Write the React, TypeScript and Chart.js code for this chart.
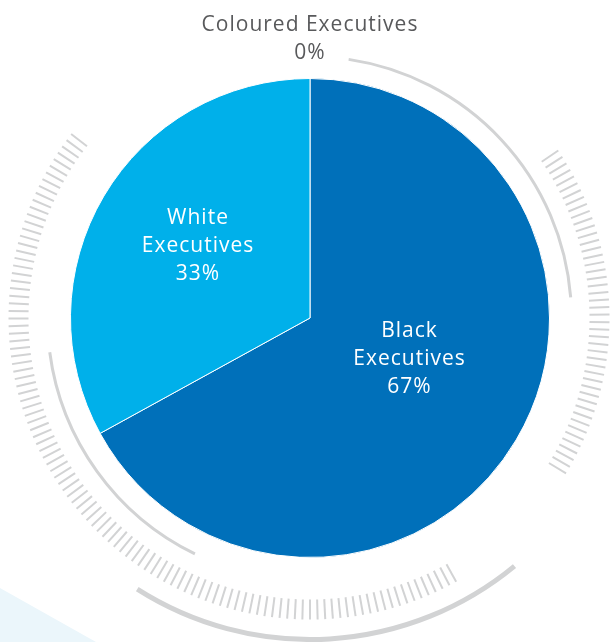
import React, { useEffect, useRef } from "react";
import { Chart, registerables } from "chart.js";

Chart.register(...registerables);

const categories = ["Black Executives", "White Executives", "Coloured Executives"];
const labelLines = [["Black", "Executives"], ["White", "Executives"], ["Coloured Executives"]];
const values = [67, 33, 0];
const colors = ["#0070ba", "#00b0ea", "#8dc63f"];

const FONT = "'Open Sans', Roboto, sans-serif";

const decorPlugin = {
  id: "decor",
  beforeDatasetsDraw(chart: any) {
    const ctx = chart.ctx as CanvasRenderingContext2D;
    const meta = chart.getDatasetMeta(0);
    const arc = meta.data[0] as any;
    const cx = arc.x;
    const cy = arc.y;
    const R = arc.outerRadius;
    const d = Math.PI / 180;
    ctx.save();
    ctx.fillStyle = "#ebf6fb";
    ctx.beginPath();
    ctx.moveTo(0, chart.height - 54);
    ctx.lineTo(96, chart.height);
    ctx.lineTo(0, chart.height);
    ctx.closePath();
    ctx.fill();

    ctx.strokeStyle = "#d2d3d4";
    ctx.lineCap = "butt";
    ctx.lineWidth = 3;
    ctx.beginPath();
    ctx.arc(cx, cy, R + 22, -81.5 * d, -4.5 * d);
    ctx.stroke();
    ctx.beginPath();
    ctx.arc(cx, cy, R + 23, 116 * d, 172.5 * d);
    ctx.stroke();
    ctx.lineWidth = 5;
    ctx.beginPath();
    ctx.arc(cx, cy, R + 82, 50.5 * d, 122.5 * d);
    ctx.stroke();

    ctx.lineWidth = 2;
    const drawTicks = (a0: number, a1: number, step: number, r0: number, r1: number) => {
      for (let a = a0; a <= a1 + 0.001; a += step) {
        const c = Math.cos(a * d);
        const s = Math.sin(a * d);
        ctx.beginPath();
        ctx.moveTo(cx + c * r0, cy + s * r0);
        ctx.lineTo(cx + c * r1, cy + s * r1);
        ctx.stroke();
      }
    };
    drawTicks(61, 218, 1.45, R + 42, R + 62);
    drawTicks(-34, 31.5, 1.45, R + 40, R + 60);
    ctx.restore();
  },
  afterDatasetsDraw(chart: any) {
    const ctx = chart.ctx as CanvasRenderingContext2D;
    const meta = chart.getDatasetMeta(0);
    const data = chart.data.datasets[0].data as number[];
    const total = data.reduce((a, b) => a + b, 0);
    const radiusFrac = [0.45, 0.555, 1.165];
    const angleShift = [-8, 2, 0];
    ctx.save();
    ctx.font = `400 21px ${FONT}`;
    (ctx as any).letterSpacing = "1px";
    ctx.textAlign = "center";
    ctx.textBaseline = "middle";
    meta.data.forEach((el: any, i: number) => {
      const mid = (el.startAngle + el.endAngle) / 2 + (angleShift[i] * Math.PI) / 180;
      const r = el.outerRadius * radiusFrac[i];
      const x = el.x + Math.cos(mid) * r;
      const y = el.y + Math.sin(mid) * r;
      const pct = Math.round((data[i] / total) * 100) + "%";
      const lines = [...labelLines[i], pct];
      const lh = 28;
      ctx.fillStyle = i === 2 ? "#58595b" : "#ffffff";
      lines.forEach((t, k) => {
        ctx.fillText(t, x, y + (k - (lines.length - 1) / 2) * lh);
      });
    });
    ctx.restore();
  },
};

export default function App() {
  const ref = useRef<HTMLCanvasElement>(null);
  useEffect(() => {
    const chart = new Chart(ref.current!, {
      type: "pie",
      data: {
        labels: categories,
        datasets: [
          {
            data: values,
            backgroundColor: colors,
            borderColor: "#ffffff",
            borderWidth: 1,
          },
        ],
      },
      options: {
        responsive: false,
        animation: false,
        layout: { padding: { left: 70, right: 60, top: 78, bottom: 84 } },
        plugins: { legend: { display: false }, tooltip: { enabled: false } },
      },
      plugins: [decorPlugin],
    });
    return () => chart.destroy();
  }, []);
  return (
    <div style={{ position: "fixed", left: 0, top: 0, width: 610, height: 642, background: "#fff" }}>
      <canvas ref={ref} width={610} height={642} />
    </div>
  );
}
